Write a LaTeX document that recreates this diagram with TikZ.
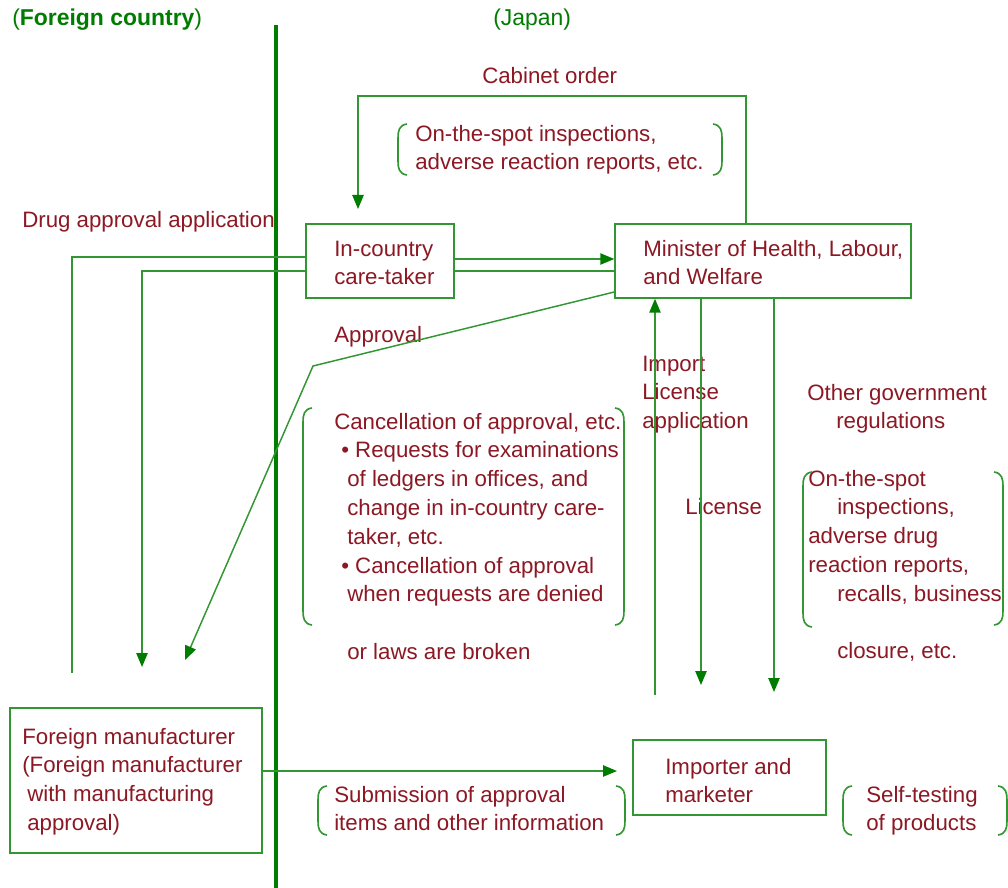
\documentclass[tikz,border=0pt]{standalone}
\usepackage{fontspec}
\setmainfont{Liberation Sans}
\usetikzlibrary{arrows.meta}
\definecolor{tred}{RGB}{140,24,36}
\definecolor{lgreen}{RGB}{50,150,50}
\definecolor{dgreen}{RGB}{0,125,0}
\newcommand\mylbr[3]{\draw[brk] ({#1+9},#2) .. controls ({#1+1},{#2+1}) and (#1,{#2+7}) .. (#1,{#2+14}) -- (#1,{#3-14}) .. controls (#1,{#3-7}) and ({#1+1},{#3-1}) .. ({#1+9},#3);}
\newcommand\myrbr[3]{\draw[brk] ({#1-9},#2) .. controls ({#1-1},{#2+1}) and (#1,{#2+7}) .. (#1,{#2+14}) -- (#1,{#3-14}) .. controls (#1,{#3-7}) and ({#1-1},{#3-1}) .. ({#1-9},#3);}
\tikzset{
  txt/.style={anchor=north west, inner sep=0pt, align=left, text=tred, font=\fontsize{16.7}{21.6}\selectfont},
  hdr/.style={anchor=west, inner sep=0pt, text=dgreen, font=\fontsize{17.2}{21.6}\selectfont},
  box/.style={draw=lgreen, line width=1.1pt, inner sep=0pt},
  link/.style={draw=lgreen, line width=1.1pt},
  arr/.style={-{Triangle[length=10.5pt,width=8.5pt,color=dgreen,fill=dgreen]}},
  brk/.style={draw=lgreen, line width=1.2pt},
}
\begin{document}
\begin{tikzpicture}[x=0.75pt,y=-0.75pt]
\useasboundingbox[fill=white] (0,0) rectangle (1008,888);

% headers
\node[hdr] (hfc) at (12,20) {(\textbf{Foreign country})};
\node[hdr] (hjp) at (493,20) {(Japan)};
\draw[dgreen, line width=3pt] (276,25) -- (276,888);

% boxes
\node[box, minimum width=111pt, minimum height=55.5pt] (ict) at (380,261) {};
\node[box, minimum width=222pt, minimum height=55.5pt] (min) at (763,261) {};
\node[box, minimum width=189pt, minimum height=108.75pt] (fm) at (136,780.5) {};
\node[box, minimum width=144.75pt, minimum height=56.25pt] (imp) at (729.5,777.5) {};

% box texts
\node[txt] (tict) at (334,235.6) {\strut In-country\\care-taker};
\node[txt] (tmin) at (643,235.6) {\strut Minister of Health, Labour,\\and Welfare};
\node[txt] (tfm) at (22,723.6) {\strut Foreign manufacturer\\(Foreign manufacturer\\\hspace*{3.75pt}with manufacturing\\\hspace*{3.75pt}approval)};
\node[txt] (timp) at (665,753.6) {\strut Importer and\\marketer};

% labels
\node[txt] (tcab) at (482,62.6) {\strut Cabinet order};
\node[txt] (tons) at (415,120.6) {\strut On-the-spot inspections,\\adverse reaction reports, etc.};
\node[txt] (tdrug) at (22,206.6) {\strut Drug approval application};
\node[txt] (tappr) at (334,321.6) {\strut Approval};
\node[txt] (tcan) at (334,408.6) {\strut Cancellation of approval, etc.\\
\hspace*{5.25pt}\textbullet\ Requests for examinations\\
\hspace*{9.75pt}of ledgers in offices, and\\
\hspace*{9.75pt}change in in-country care-\\
\hspace*{9.75pt}taker, etc.\\
\hspace*{5.25pt}\textbullet\ Cancellation of approval\\
\hspace*{9.75pt}when requests are denied\\
\\
\hspace*{9.75pt}or laws are broken};
\node[txt] (timpl) at (642,350.6) {\strut Import\\License\\application};
\node[txt] (tlic) at (685,493.6) {\strut License};
\node[txt] (toth) at (807,379.6) {\strut Other government\\\hspace*{21.75pt}regulations};
\node[txt] (toss) at (808,465.6) {\strut On-the-spot\\
\hspace*{21.75pt}inspections,\\
adverse drug\\
reaction reports,\\
\hspace*{21.75pt}recalls, business\\
\\
\hspace*{21.75pt}closure, etc.};
\node[txt] (tsub) at (334,781.6) {\strut Submission of approval\\items and other information};
\node[txt] (tself) at (866,781.6) {\strut Self-testing\\of products};

% brackets
\mylbr{398}{124}{175}
\myrbr{722}{124}{175}
\mylbr{303}{408}{625}
\myrbr{624}{408}{625}
\mylbr{803}{472}{627}
\myrbr{1003}{472}{625}
\mylbr{318}{786}{835}
\myrbr{625}{786}{835}
\mylbr{843}{786}{835}
\myrbr{1007}{786}{835}

% free ends
\coordinate (fmA) at (72,673);
\coordinate (fmB) at (142,667);
\coordinate (apK) at (313,366);
\coordinate (apB) at (185,660);
\coordinate (cabL) at (358,96);
\coordinate (cabT) at (358,209);
\coordinate (ilS) at (655,695);
\coordinate (licE) at (701,685);
\coordinate (othE) at (774,692);
\coordinate (subE) at (617,771);

% connectors
\draw[link] (ict.west |- 0,257) -| (fmA);
\draw[link, arr] (ict.west |- 0,271) -| (fmB);
\draw[link, arr] (ict.east |- 0,259) -- (min.west |- 0,259);
\draw[link] (ict.east |- 0,271) -- (min.west |- 0,271);
\draw[link, arr] (min.north -| 746,0) |- (cabL) -- (cabT);
\draw[link, arr] (min.west |- 0,292) -- (apK) -- (apB);
\draw[link, arr] (ilS) -- (min.south -| ilS);
\draw[link, arr] (min.south -| licE) -- (licE);
\draw[link, arr] (min.south -| othE) -- (othE);
\draw[link, arr] (fm.east |- 0,771) -- (subE);
\end{tikzpicture}
\end{document}
